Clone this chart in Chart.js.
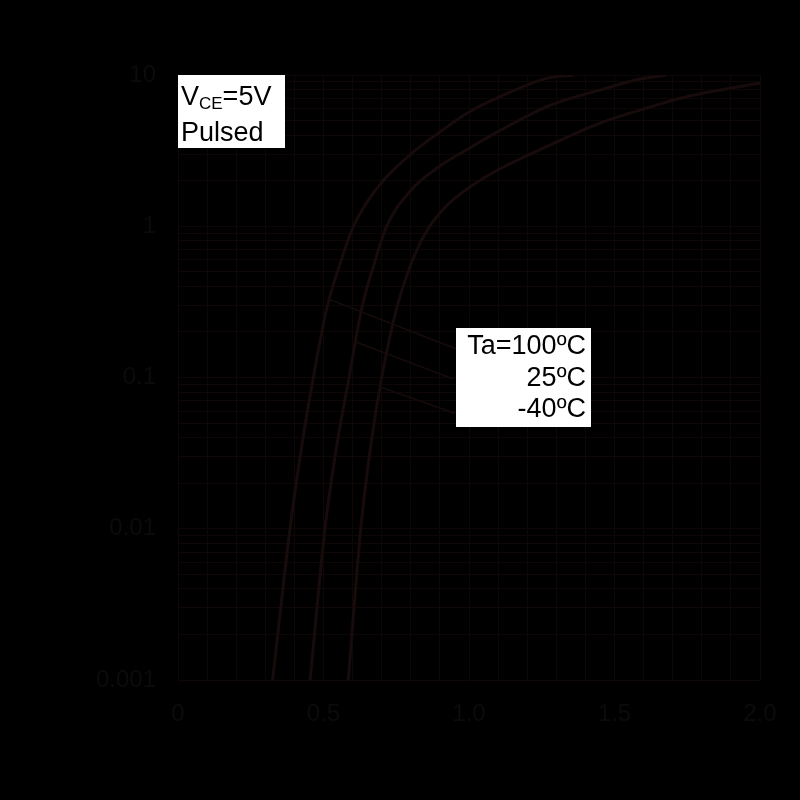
<!DOCTYPE html>
<html>
<head>
<meta charset="utf-8">
<script src="https://cdn.jsdelivr.net/npm/chart.js@4/dist/chart.umd.min.js"></script>
<style>
  html, body { margin: 0; padding: 0; background: #000; }
  #wrap { width: 800px; height: 800px; }
</style>
</head>
<body>
<div id="wrap"><canvas id="ic" width="800" height="800"></canvas></div>
<script>
// dados (Vbe em V, Ic em A)
const v100 = [0.325, 0.385, 0.425, 0.465, 0.511, 0.557, 0.603, 0.65, 0.71, 0.809, 0.90, 1.0, 1.107, 1.267, 1.36];
const i100 = [0.001, 0.01, 0.035, 0.1, 0.285, 0.566, 1.0, 1.45, 2.05, 3.1, 4.2, 5.7, 7.2, 9.5, 10];

const v25 = [0.454, 0.505, 0.545, 0.588, 0.631, 0.671, 0.717, 0.797, 0.90, 1.0, 1.107, 1.278, 1.45, 1.588, 1.68];
const i25 = [0.001, 0.01, 0.035, 0.1, 0.285, 0.54, 1.0, 1.7, 2.5, 3.27, 4.3, 6.3, 7.95, 9.4, 10];

const vm40 = [0.585, 0.628, 0.662, 0.70, 0.751, 0.797, 0.85, 0.92, 1.0, 1.107, 1.278, 1.45, 1.588, 1.75, 2.0];
const im40 = [0.001, 0.01, 0.035, 0.1, 0.285, 0.54, 0.9, 1.35, 1.8, 2.4, 3.44, 4.8, 5.86, 7.2, 8.85];

// linhas de chamada das legendas [x0, y0, x1, y1]
const leader100 = [0.518, 0.33, 0.955, 0.155];
const leader25 = [0.614, 0.171, 0.945, 0.098];
const leaderM40 = [0.698, 0.086, 0.952, 0.058];

const xTickValues = [0, 0.5, 1.0, 1.5, 2.0];
const xTickLabels = ['0', '0.5', '1.0', '1.5', '2.0'];
const yTickValues = [0.001, 0.01, 0.1, 1, 10];
const yTickLabels = ['0.001', '0.01', '0.1', '1', '10'];
const tempLabels = ['Ta=100ºC', '25ºC', '-40ºC'];

const gridColor = '#0f0707';
const curveColor = '#170b0b';
const tickColor = '#0b0b0b';
const fontFamily = '"Liberation Sans", Arial, sans-serif';

function toPoints(xs, ys) {
  return xs.map((x, i) => ({ x: x, y: ys[i] }));
}

function curve(xs, ys) {
  return {
    data: toPoints(xs, ys),
    borderColor: curveColor,
    borderWidth: 3,
    pointRadius: 0,
    cubicInterpolationMode: 'monotone',
    fill: false,
  };
}

function leader(l) {
  return {
    data: [{ x: l[0], y: l[1] }, { x: l[2], y: l[3] }],
    borderColor: curveColor,
    borderWidth: 1.5,
    pointRadius: 0,
    fill: false,
  };
}

// caixas brancas com os textos
const boxesPlugin = {
  id: 'boxes',
  afterDatasetsDraw(chart) {
    const ctx = chart.ctx;
    ctx.save();
    // caixa VCE / Pulsed
    ctx.fillStyle = '#fff';
    ctx.fillRect(178, 75, 107, 73);
    ctx.fillStyle = '#000';
    ctx.textBaseline = 'alphabetic';
    ctx.textAlign = 'left';
    ctx.font = '27px ' + fontFamily;
    ctx.fillText('V', 181, 105);
    const wV = ctx.measureText('V').width;
    ctx.font = '17px ' + fontFamily;
    ctx.fillText('CE', 181 + wV, 109);
    const wCE = ctx.measureText('CE').width;
    ctx.font = '27px ' + fontFamily;
    ctx.fillText('=5V', 181 + wV + wCE, 105);
    ctx.fillText('Pulsed', 181, 141);

    // caixa das temperaturas
    ctx.fillStyle = '#fff';
    ctx.fillRect(456, 328, 135, 99);
    ctx.fillStyle = '#000';
    ctx.textAlign = 'right';
    ctx.font = '27px ' + fontFamily;
    const baselines = [354, 386, 417];
    tempLabels.forEach((t, i) => ctx.fillText(t, 586, baselines[i]));
    ctx.restore();
  }
};

const xGrid = [];
for (let k = 0; k <= 20; k++) xGrid.push(k / 10);
const yGrid = [];
[0.001, 0.01, 0.1, 1].forEach(d => {
  for (let m = 1; m <= 9; m++) yGrid.push(+(d * m).toPrecision(3));
});
yGrid.push(10);

const ctx = document.getElementById('ic').getContext('2d');
const myChart = new Chart(ctx, {
  type: 'line',
  data: {
    datasets: [
      curve(v100, i100),
      curve(v25, i25),
      curve(vm40, im40),
      leader(leader100),
      leader(leader25),
      leader(leaderM40),
    ],
  },
  options: {
    responsive: false,
    animation: false,
    layout: { padding: { top: 75, right: 40, left: 0, bottom: 0 } },
    plugins: { legend: { display: false }, tooltip: { enabled: false } },
    scales: {
      x: {
        type: 'linear',
        min: 0,
        max: 2,
        afterBuildTicks: scale => { scale.ticks = xGrid.map(v => ({ value: v })); },
        afterFit: scale => { scale.height = 120; },
        grid: { color: gridColor, lineWidth: 1, drawTicks: false },
        border: { color: gridColor, width: 1 },
        ticks: {
          padding: 20,
          color: tickColor,
          font: { size: 24, family: fontFamily },
          maxRotation: 0,
          autoSkip: false,
          callback: value => {
            const i = xTickValues.findIndex(v => Math.abs(v - value) < 1e-6);
            return i >= 0 ? xTickLabels[i] : '';
          },
        },
      },
      y: {
        type: 'logarithmic',
        min: 0.001,
        max: 10,
        afterBuildTicks: scale => { scale.ticks = yGrid.map(v => ({ value: v })); },
        afterFit: scale => { scale.width = 178; },
        grid: { color: gridColor, lineWidth: 1, drawTicks: false },
        border: { color: gridColor, width: 1 },
        ticks: {
          padding: 22,
          color: tickColor,
          font: { size: 24, family: fontFamily },
          autoSkip: false,
          callback: value => {
            const i = yTickValues.findIndex(v => Math.abs(v - value) / v < 1e-6);
            return i >= 0 ? yTickLabels[i] : '';
          },
        },
      },
    },
  },
  plugins: [boxesPlugin],
});
</script>
</body>
</html>
